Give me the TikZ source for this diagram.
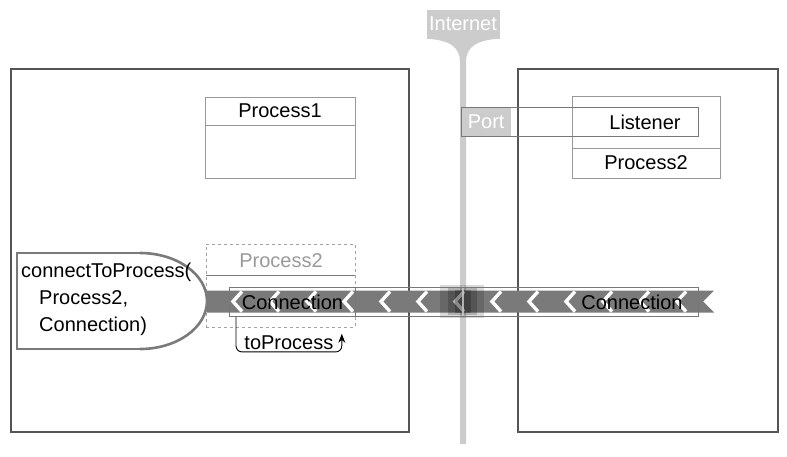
\documentclass[tikz,border=0pt]{standalone}
\usepackage{fontspec}
\setmainfont{Liberation Sans}
\usetikzlibrary{arrows.meta,positioning}
\definecolor{frameline}{HTML}{555555}
\definecolor{boxline}{HTML}{999999}
\definecolor{netgray}{HTML}{CCCCCC}
\definecolor{pipegray}{HTML}{7A7A7A}
\tikzset{
	host/.style={draw=frameline, line width=1.6pt, anchor=north west, inner sep=0pt},
	procbox/.style={draw=boxline, line width=1pt, anchor=north west, inner sep=0pt},
	conbox/.style={draw=frameline!80, line width=.9pt, anchor=north west, inner sep=0pt},
	chev/.style={white, line width=3.4pt},
}

\begin{document}
\begin{tikzpicture}[x=1pt,y=-1pt,font=\fontsize{20}{22}\selectfont]
	\useasboundingbox (0,0) rectangle (787,456);
	% the two hosts
	\node [host, minimum width=398pt, minimum height=363pt] (hostL) at (10,68) {};
	\node [host, minimum width=260pt, minimum height=363pt] (hostR) at (517,68) {};
	% internet
	\node [fill=netgray, text=white, minimum width=73pt, minimum height=29pt, inner sep=0pt] (inet) at (463,24) {Internet};
	\fill [netgray] (inet.south west) -- (inet.south east)
		.. controls (475,40) and (466,48) .. (466,62) -- (466,444) -- (460,444) -- (460,62)
		.. controls (460,48) and (451,40) .. (inet.south west) -- cycle;
	% Process1
	\node [procbox, minimum width=150pt, minimum height=81pt] (pr1) at (205,97) {};
	\draw [boxline, line width=1pt] (205,125) -- (355,125);
	\node (pr1name) at (280,111) {Process1};
	% Process2 on the right with its listener
	\node [procbox, minimum width=148pt, minimum height=82pt] (pr2R) at (572,96) {};
	\draw [boxline, line width=1pt] (572,148) -- (720,148);
	\node (pr2Rname) at (646,163) {Process2};
	\node [conbox, minimum width=237pt, minimum height=29pt] (lis) at (461,107) {};
	\node [fill=netgray, text=white, anchor=west, minimum width=50pt, minimum height=28pt, inner sep=2pt] (port) at (lis.west) {Port};
	\draw [frameline!80, line width=.9pt] (lis.north west) rectangle (lis.south east);
	\node (lisname) at (645,122) {Listener};
	% Process2 proxy on the left
	\node [procbox, draw=boxline!90, dashed, line width=.8pt, minimum width=149pt, minimum height=83pt] (pr2L) at (206,244) {};
	\draw [boxline!80!black, line width=.9pt] (206,275) -- (355,275);
	\node [text=boxline] (pr2Lname) at (281,261) {Process2};
	% the connection pipe
	\fill [pipegray] (207,290.5) -- (714,290.5) -- (703,301.5) -- (714,312.5) -- (207,312.5) -- cycle;
	\foreach \x in {233,270,...,700}
		\draw [chev] (\x+9,291.5) -- (\x,301.5) -- (\x+9,311.5);
	\fill [black, opacity=.15] (440,285) rectangle (484,318);
	\fill [black, opacity=.18] (448,288) rectangle (477,315);
	\fill [black, opacity=.22] (455,290) rectangle (471,313);
	\draw [netgray, line width=1.5pt, opacity=.8] (463,286) -- (463,317);
	\node [conbox, minimum width=469pt, minimum height=29pt] (conR) at (229,287) {};
	\node (conRname) at (632,302) {Connection};
	\node [conbox, minimum width=126pt, minimum height=29pt] (conL) at (229,287) {Connection};
	% the call
	\fill [white] (17,253) -- (140,253) arc [start angle=-90, end angle=90, x radius=67, y radius=48] -- (17,349) -- cycle;
	\draw [pipegray, line width=1.4pt] (140,349) -- (17,349) -- (17,253) -- (140,253);
	\draw [pipegray, line width=2.6pt] (140,253) arc [start angle=-90, end angle=90, x radius=67, y radius=48];
	\node [anchor=north west, align=left, inner sep=0pt] (call) at (21,263)
		{connectToProcess(\\[5pt]\hspace*{18pt}Process2,\\[5pt]\hspace*{18pt}Connection)};
	% toProcess
	\draw [-{Stealth[length=9pt,width=7pt]}, line width=.9pt, rounded corners=6pt]
		([xshift=7pt]conL.south west) -- ++(0,35) -| ([xshift=-14pt,yshift=-6pt]pr2L.south east)
		node [pos=.25, above=-2pt] (topro) {toProcess};
\end{tikzpicture}
\end{document}
